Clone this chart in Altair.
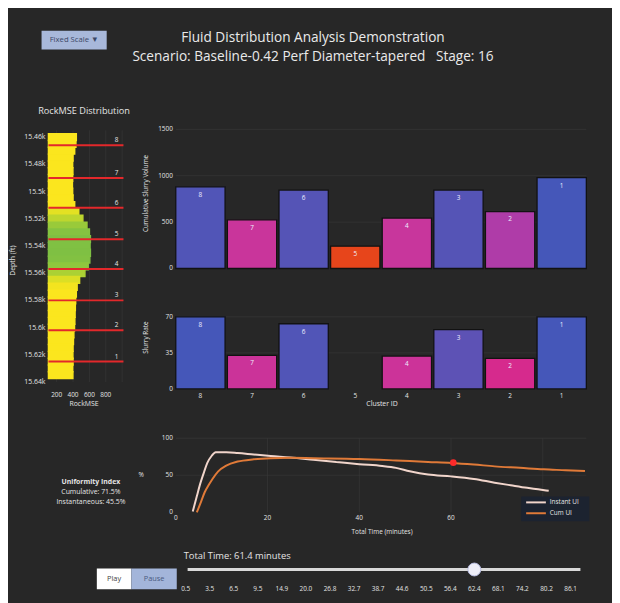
import altair as alt
import numpy as np
import pandas as pd

BG = "#272727"
FONT = "Open Sans"
TXT = "#e4e4e4"
GRID = "#3a3a3a"
INSTANT_COLOR = "#f1d5cb"
CUM_COLOR = "#e07a38"

# ---------------- data ----------------
title_text = "Fluid Distribution Analysis Demonstration"
subtitle_text = "Scenario: Baseline-0.42 Perf Diameter-tapered\u00a0\u00a0\u00a0Stage: 16"

clusters = ["8", "7", "6", "5", "4", "3", "2", "1"]
slurry_volume = [880, 525, 845, 241, 543, 845, 614, 979]
slurry_rate = [70.0, 32.6, 63.3, 0.0, 31.9, 57.5, 29.7, 70.0]
cluster_depth = [15466, 15490, 15512, 15535, 15557, 15580, 15602, 15625]

mse_depth = [15460, 15465, 15470, 15475, 15480, 15485, 15490, 15495, 15500,
             15505, 15510, 15515, 15520, 15525, 15530, 15535, 15540, 15545,
             15550, 15555, 15560, 15565, 15570, 15575, 15580, 15585, 15590,
             15595, 15600, 15605, 15610, 15615, 15620, 15625, 15630, 15635]
mse_value = [440, 435, 420, 400, 395, 398, 395, 392, 395,
             400, 420, 470, 520, 570, 600, 612, 608, 612,
             605, 585, 545, 480, 450, 440, 432, 428, 425,
             422, 418, 410, 405, 400, 398, 400, 396, 398]

depth_ticks = [15460, 15480, 15500, 15520, 15540, 15560, 15580, 15600, 15620, 15640]
mse_ticks = [200, 400, 600, 800]
mse_grid = [200, 400, 600, 800, 1000]
vol_ticks = [0, 500, 1000, 1500]
rate_ticks = [0, 35, 70]
time_ticks = [0, 20, 40, 60, 80]
ui_ticks = [0, 50, 100]

series_names = ["Instant UI", "Cum UI"]
instant_t = [3.7, 4.6, 5.4, 6.2, 6.9, 7.8, 8.7, 11.0, 13.5, 17.0, 20.7, 25.0,
             30.0, 35.0, 40.0, 45.0, 48.0, 51.0, 55.0, 60.0, 65.0, 69.5, 73.0,
             76.6, 79.0, 81.3]
instant_ui = [1, 22, 40, 55, 67, 76, 81, 81, 80, 78, 76, 74,
              71, 68, 65, 62.5, 60, 55.5, 51, 48.5, 45, 40, 36.5,
              33, 31, 29]
cum_t = [4.6, 5.5, 6.3, 7.2, 8.0, 9.2, 11.0, 13.5, 17.0, 20.7, 25.0, 30.0,
         40.0, 48.0, 55.0, 60.1, 65.0, 69.5, 75.0, 80.2, 85.0, 89.2]
cum_ui = [0, 14, 27, 37, 45, 55, 63, 68.5, 71.5, 73, 73.5, 73,
          72, 70, 68, 66.7, 64.5, 62, 60, 58, 56.8, 55.6]
marker_t = [60.5]
marker_ui = [67]

current_time = 61.4
ui_cumulative = 71.5
ui_instant = 45.5

slider_labels = ["0.5", "3.5", "6.5", "9.5", "14.9", "20.0", "26.8", "32.7",
                 "38.7", "44.6", "50.5", "56.4", "62.4", "68.1", "74.2",
                 "80.2", "86.1"]

# ---------------- helpers ----------------
ONE = pd.DataFrame({"k": [0]})


def text_at(s, x, y, size=8.0, color=TXT, weight="normal", align="center", angle=0):
    return alt.Chart(pd.DataFrame({"s": [s]})).mark_text(
        font=FONT, fontSize=size, color=color, fontWeight=weight, align=align,
        baseline="middle", angle=angle
    ).encode(x=alt.value(x), y=alt.value(y), text="s:N")


def box(x0, x1, y0, y1, fill, opacity=1.0):
    return alt.Chart(ONE).mark_rect(fill=fill, opacity=opacity).encode(
        x=alt.value(x0), x2=alt.value(x1), y=alt.value(y0), y2=alt.value(y1))


def seg(x0, x1, y, color, width):
    return alt.Chart(ONE).mark_rule(color=color, strokeWidth=width).encode(
        x=alt.value(x0), x2=alt.value(x1), y=alt.value(y))


# ---------------- header ----------------
header = alt.layer(
    box(34, 100, 19, 38, "#a8b8da"),
    text_at("Fixed Scale \u25BC", 67, 28.5, size=7.8, color="#3b4766"),
    text_at(title_text, 309, 27, size=13.8, color="#eaeaea"),
    text_at(subtitle_text, 309, 45.5, size=13.8, color="#eaeaea"),
)

# ---------------- left panel: RockMSE ----------------
xs_mse = alt.Scale(domain=[100, 1040], range=[41, 119], nice=False, zero=False)
ys_dep = alt.Scale(domain=[15455, 15640], range=[120, 375], nice=False, zero=False)
mse_cscale = alt.Scale(domain=[440, 610], range=["#fbe61e", "#7fc043"], clamp=True)

mse_df = pd.DataFrame({"depth": mse_depth, "mse": mse_value})
mse_df["top"] = mse_df["depth"] - 2.5
mse_df["bot"] = mse_df["depth"] + 2.5
mse_df["base"] = 100

mse_gridlines = alt.Chart(pd.DataFrame({"v": mse_grid})).mark_rule(
    color=GRID, strokeWidth=0.6).encode(
    x=alt.X("v:Q", scale=xs_mse, axis=None), y=alt.value(120), y2=alt.value(375))

mse_fill = alt.Chart(mse_df).mark_rect(strokeWidth=1.5).encode(
    x=alt.X("base:Q", scale=xs_mse, axis=None), x2="mse:Q",
    y=alt.Y("top:Q", scale=ys_dep, axis=None), y2="bot:Q",
    color=alt.Color("mse:Q", scale=mse_cscale, legend=None),
    stroke=alt.Stroke("mse:Q", scale=mse_cscale, legend=None),
)

cl_df = pd.DataFrame({"cluster": clusters, "depth": cluster_depth})
cl_lines = alt.Chart(cl_df).mark_rule(color="#e3282b", strokeWidth=2).encode(
    y=alt.Y("depth:Q", scale=ys_dep, axis=None), x=alt.value(41), x2=alt.value(117))
cl_text = alt.Chart(cl_df).mark_text(
    font=FONT, fontSize=6.5, color=TXT, dy=-5).encode(
    y=alt.Y("depth:Q", scale=ys_dep, axis=None), x=alt.value(110), text="cluster:N")

dep_lab = alt.Chart(pd.DataFrame({
    "v": depth_ticks, "lab": [f"{v / 1000:g}k" for v in depth_ticks]})).mark_text(
    font=FONT, fontSize=7, color=TXT, align="right", baseline="middle").encode(
    x=alt.value(38), y=alt.Y("v:Q", scale=ys_dep, axis=None), text="lab:N")
mse_lab = alt.Chart(pd.DataFrame({"v": mse_ticks, "lab": [str(v) for v in mse_ticks]})).mark_text(
    font=FONT, fontSize=6.5, color=TXT).encode(
    x=alt.X("v:Q", scale=xs_mse, axis=None), y=alt.value(388), text="lab:N")

left_panel = alt.layer(
    mse_gridlines, mse_fill, cl_lines, cl_text, dep_lab, mse_lab,
    text_at("RockMSE Distribution", 77, 100, size=9.3),
    text_at("Depth (ft)", 5, 252, size=7, angle=270),
    text_at("RockMSE", 77, 397, size=7),
)

# ---------------- bar panels ----------------
xb = alt.Scale(domain=clusters, range=[170, 586], paddingInner=0.045, paddingOuter=0)
yv = alt.Scale(domain=[0, 1500], range=[260, 119], nice=False, zero=True)
yr = alt.Scale(domain=[0, 70], range=[382, 309], nice=False, zero=True)
bar_cscale = alt.Scale(domain=[0.25, 0.45, 0.56, 0.63, 0.83, 1.0],
                       range=["#e8431f", "#cc3399", "#c8369c", "#ae3ca8", "#5953b5", "#4557b9"])

bar_df = pd.DataFrame({"cluster": clusters, "vol": slurry_volume, "rate": slurry_rate})
bar_df["vol_n"] = bar_df["vol"] / bar_df["vol"].max()
bar_df["rate_n"] = bar_df["rate"] / bar_df["rate"].max()


def hgrid(vals, yscale):
    return alt.Chart(pd.DataFrame({"v": vals})).mark_rule(color=GRID, strokeWidth=0.6).encode(
        y=alt.Y("v:Q", scale=yscale, axis=None), x=alt.value(170), x2=alt.value(586))


def ylabels(vals, yscale, x=167):
    return alt.Chart(pd.DataFrame({"v": vals, "lab": [str(v) for v in vals]})).mark_text(
        font=FONT, fontSize=6.5, color=TXT, align="right", baseline="middle").encode(
        x=alt.value(x), y=alt.Y("v:Q", scale=yscale, axis=None), text="lab:N")


vol_bars = alt.Chart(bar_df).mark_bar(stroke="#121212", strokeWidth=1.3).encode(
    x=alt.X("cluster:N", scale=xb, axis=None),
    y=alt.Y("vol:Q", scale=yv, axis=None),
    color=alt.Color("vol_n:Q", scale=bar_cscale, legend=None),
)
vol_text = alt.Chart(bar_df).mark_text(font=FONT, fontSize=6.5, color="#eeeeff", dy=8).encode(
    x=alt.X("cluster:N", scale=xb, axis=None),
    y=alt.Y("vol:Q", scale=yv, axis=None), text="cluster:N")

bar_top = alt.layer(
    hgrid(vol_ticks[1:], yv), vol_bars, vol_text, ylabels(vol_ticks, yv),
    text_at("Cumulative Slurry Volume", 140, 184, size=6.5, angle=270),
)

rate_bars = alt.Chart(bar_df).transform_filter("datum.rate > 0").mark_bar(
    stroke="#121212", strokeWidth=1.3).encode(
    x=alt.X("cluster:N", scale=xb, axis=None),
    y=alt.Y("rate:Q", scale=yr, axis=None),
    color=alt.Color("rate_n:Q", scale=bar_cscale, legend=None),
)
rate_text = alt.Chart(bar_df).transform_filter("datum.rate > 0").mark_text(
    font=FONT, fontSize=6.5, color="#eeeeff", dy=8).encode(
    x=alt.X("cluster:N", scale=xb, axis=None),
    y=alt.Y("rate:Q", scale=yr, axis=None), text="cluster:N")
rate_xlab = alt.Chart(bar_df).mark_text(font=FONT, fontSize=6.5, color=TXT).encode(
    x=alt.X("cluster:N", scale=xb, axis=None), y=alt.value(389), text="cluster:N")

bar_bottom = alt.layer(
    hgrid(rate_ticks[1:], yr), rate_bars, rate_text, rate_xlab, ylabels(rate_ticks, yr),
    text_at("Slurry Rate", 140, 330, size=6.5, angle=270),
    text_at("Cluster ID", 379, 397, size=7),
)

# ---------------- line panel ----------------
xt = alt.Scale(domain=[0, 89.5], range=[170, 586], nice=False, zero=False)
yu = alt.Scale(domain=[0, 100], range=[507, 432], nice=False, zero=True)

line_df = pd.concat([
    pd.DataFrame({"t": instant_t, "ui": instant_ui, "series": series_names[0]}),
    pd.DataFrame({"t": cum_t, "ui": cum_ui, "series": series_names[1]}),
])

t_grid = alt.Chart(pd.DataFrame({"v": time_ticks[1:]})).mark_rule(color=GRID, strokeWidth=0.6).encode(
    x=alt.X("v:Q", scale=xt, axis=None), y=alt.value(432), y2=alt.value(507))
u_grid = alt.Chart(pd.DataFrame({"v": ui_ticks[1:]})).mark_rule(color=GRID, strokeWidth=0.6).encode(
    y=alt.Y("v:Q", scale=yu, axis=None), x=alt.value(170), x2=alt.value(586))

lines = alt.Chart(line_df).mark_line(strokeWidth=2, interpolate="monotone").encode(
    x=alt.X("t:Q", scale=xt, axis=None),
    y=alt.Y("ui:Q", scale=yu, axis=None),
    color=alt.Color("series:N",
                    scale=alt.Scale(domain=series_names, range=[INSTANT_COLOR, CUM_COLOR]),
                    legend=None),
)
marker = alt.Chart(pd.DataFrame({"t": marker_t, "ui": marker_ui})).mark_circle(
    size=45, color="#ff2a2a", opacity=1).encode(
    x=alt.X("t:Q", scale=xt, axis=None), y=alt.Y("ui:Q", scale=yu, axis=None))

t_lab = alt.Chart(pd.DataFrame({"v": time_ticks, "lab": [str(v) for v in time_ticks]})).mark_text(
    font=FONT, fontSize=6.5, color=TXT).encode(
    x=alt.X("v:Q", scale=xt, axis=None), y=alt.value(513), text="lab:N")

legend = alt.layer(
    box(520, 589, 491, 516, "#1c2330"),
    seg(525, 545, 497, INSTANT_COLOR, 2),
    seg(525, 545, 508, CUM_COLOR, 2),
    text_at(series_names[0], 549, 497, size=6.5, align="left"),
    text_at(series_names[1], 549, 508, size=6.5, align="left"),
)

line_panel = alt.layer(
    t_grid, u_grid, t_lab, lines, marker, ylabels(ui_ticks, yu), legend,
    text_at("%", 135, 469, size=6.5),
    text_at("Total Time (minutes)", 379, 527, size=6.5),
    text_at("Uniformity Index", 84, 476, size=7, weight="bold"),
    text_at(f"Cumulative: {ui_cumulative}%", 84, 486, size=7),
    text_at(f"Instantaneous: {ui_instant}%", 84, 497, size=7),
)

# ---------------- slider ----------------
slider_idx = list(range(len(slider_labels)))
slider_vals = [float(s) for s in slider_labels]
knob_idx = int(np.argmin([abs(v - current_time) for v in slider_vals]))
xs_sl = alt.Scale(domain=[0, len(slider_labels) - 1], range=[180, 570], nice=False, zero=False)

rail = seg(182, 580, 565, "#d9d9d9", 3)
sl_lab = alt.Chart(pd.DataFrame({"i": slider_idx, "lab": slider_labels})).mark_text(
    font=FONT, fontSize=6.5, color=TXT).encode(
    x=alt.X("i:Q", scale=xs_sl, axis=None), y=alt.value(585), text="lab:N")
knob = alt.Chart(pd.DataFrame({"i": [knob_idx]})).mark_point(
    filled=True, size=170, fill="#eeeef8", stroke="#b9bee2", strokeWidth=1, opacity=1).encode(
    x=alt.X("i:Q", scale=xs_sl, axis=None), y=alt.value(565))

slider = alt.layer(
    rail, sl_lab, knob,
    text_at(f"Total Time: {current_time} minutes", 178, 551, size=9.5, align="left"),
    box(90, 125, 564, 585, "#ffffff"),
    box(125, 171, 564, 585, "#a3b5da"),
    text_at("Play", 107.5, 574.5, size=7.5, color="#444444"),
    text_at("Pause", 148, 574.5, size=7.5, color="#4a5a80"),
)

chart = alt.layer(
    header, left_panel, bar_top, bar_bottom, line_panel, slider
).resolve_scale(
    x="independent", y="independent", color="independent", stroke="independent"
).properties(
    width=612, height=595, background=BG, padding=0,
    autosize=alt.AutoSizeParams(type="none"),
).configure_view(strokeWidth=0)

chart.save("out.html", embed_options={"renderer": "svg", "actions": False})
